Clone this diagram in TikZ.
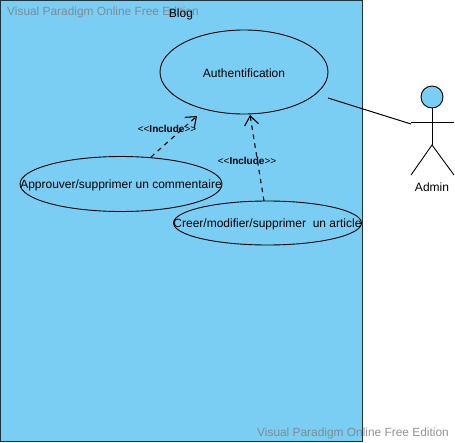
\documentclass[tikz,border=0pt]{standalone}
\usepackage{fontspec}
\setmainfont{Liberation Sans}
\usepackage{xcolor}
\usetikzlibrary{arrows.meta,shapes.geometric}
\definecolor{blogblue}{HTML}{7ACEF4}
\tikzset{
    usecase/.style={draw,ellipse,line width=.9pt,inner sep=0pt,minimum width=#1},
    usecase/.default=168,
    watermark/.style={text=gray,text opacity=.85,font=\fontsize{11.9}{14}\selectfont},
    lbl/.style={font=\fontsize{12}{14}\selectfont,inner sep=0pt},
    includelbl/.style={font=\fontsize{10}{12}\selectfont,inner sep=0pt},
    includearrow/.style={line width=1.1pt,dash pattern=on 4.5 off 4.5,-{Straight Barb[length=9,width=14]}}
}
\begin{document}
\begin{tikzpicture}[x=1pt,y=-1pt]
    \useasboundingbox (0,0) rectangle (455,442);
    \node[draw=black!75!blogblue,fill=blogblue,line width=1pt,minimum width=362,minimum height=441,inner sep=0pt,anchor=north west] (blog) at (0,0) {};
    \node[watermark,anchor=west,inner sep=0pt] (markone) at (7,12) {Visual Paradigm Online Free Edition};
    \node[watermark,anchor=east,inner sep=0pt] (marktwo) at (449,433) {Visual Paradigm Online Free Edition};
    \node[lbl] (blogtitle) at (181,14) {Blog};
    % use cases
    \node[usecase,minimum height=84] (auth) at (244,72) {};
    \node[lbl] (authtext) at (244,73) {Authentification};
    \node[usecase=202,minimum height=55] (approve) at (121,184) {};
    \node[lbl] (approvetext) at (121,185) {Approuver/supprimer un commentaire};
    \node[usecase=188,minimum height=44] (edit) at (267.5,223) {};
    \node[lbl] (edittext) at (267.5,224) {Creer/modifier/supprimer\ \ un article};
    % actor
    \node[draw,circle,fill=blogblue,minimum size=22,inner sep=0pt,line width=.9pt] (head) at (432,97) {};
    \coordinate (hip) at (432,145);
    \coordinate (handl) at (411,122);
    \coordinate (handr) at (454,122);
    \coordinate (footl) at (411,175);
    \coordinate (footr) at (454,175);
    \draw[line width=.9pt] (head) -- (hip);
    \draw[line width=.9pt] (handl) -- (handr);
    \draw[line width=.9pt] (footl) -- (hip) -- (footr);
    \node[lbl] (admin) at (432,187) {Admin};
    % links
    \coordinate (authr) at (328,98);
    \coordinate (admint) at (411,124);
    \coordinate (tipone) at (197,116);
    \coordinate (tiptwo) at (250,115);
    \coordinate (startone) at (151,157);
    \coordinate (starttwo) at (264,201);
    \draw[line width=1pt] (authr) -- (admint);
    \draw[includearrow] (startone) -- (tipone);
    \draw[includearrow] (starttwo) -- (tiptwo);
    \node[includelbl] (incone) at (167,129) {{<}{<}\textbf{Include}{>}{>}};
    \node[includelbl] (inctwo) at (247,161) {{<}{<}\textbf{Include}{>}{>}};
\end{tikzpicture}
\end{document}
